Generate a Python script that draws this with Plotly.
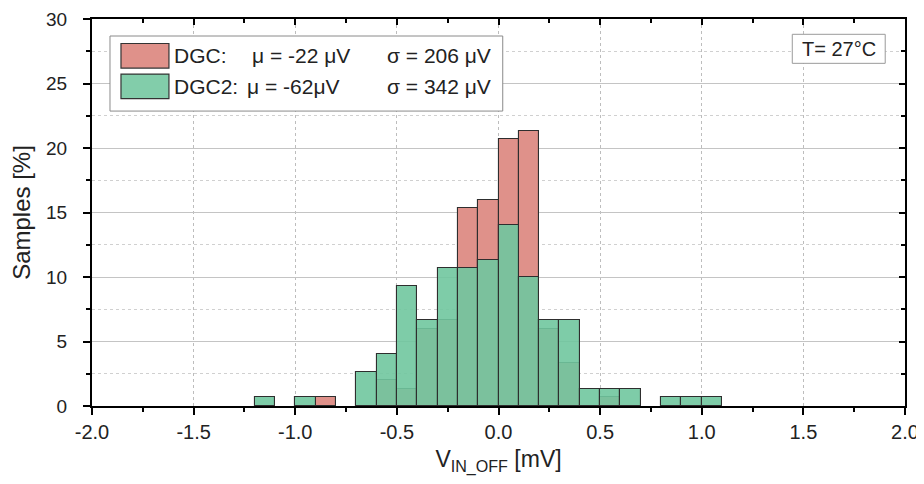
import plotly.graph_objects as go

# ---- data (percent of samples per 0.1 mV bin) ----
bin_centers = [-1.15, -1.05, -0.95, -0.85, -0.75, -0.65, -0.55, -0.45, -0.35, -0.25,
               -0.15, -0.05, 0.05, 0.15, 0.25, 0.35, 0.45, 0.55, 0.65, 0.75,
               0.85, 0.95, 1.05]
dgc_pct = [None, None, None, 0.67, None, None, 2.0, 1.33, 6.0, 6.67,
           15.33, 16.0, 20.67, 21.33, 6.0, 3.33, None, 0.67, None, None,
           None, None, None]
dgc2_pct = [0.67, None, 0.67, None, None, 2.67, 4.0, 9.33, 6.67, 10.67,
            10.67, 11.33, 14.0, 10.0, 6.67, 6.67, 1.33, 1.33, 1.33, None,
            0.67, 0.67, 0.67]
bin_width = 0.1

x_ticks = [-2.0, -1.5, -1.0, -0.5, 0.0, 0.5, 1.0, 1.5, 2.0]
y_ticks = [0, 5, 10, 15, 20, 25, 30]

legend_rows = [
    ("DGC:", "μ = -22 μV", "σ = 206 μV"),
    ("DGC2:", "μ = -62μV", "σ = 342 μV"),
]
temp_label = "T= 27°C"

RED = "#df918a"
GREEN = "rgba(112,198,158,0.9)"
GREEN_SWATCH = "#82cdaa"
FONT = "Liberation Sans, Arial, sans-serif"

# page has an 8px body margin; figure sized so the page does not overflow the window
OFF = 8
W, H = 924 - OFF, 484 - 2 * OFF
L, R, T = 92 - OFF, 18.5, 19 - OFF
B = H - (405.7 - OFF)
PW, PH = W - L - R, H - T - B

fig = go.Figure()
fig.add_trace(go.Bar(x=bin_centers, y=dgc_pct, width=bin_width, name="DGC",
                     marker=dict(color=RED, line=dict(color="#2e2e2e", width=1.1)),
                     showlegend=False))
fig.add_trace(go.Bar(x=bin_centers, y=dgc2_pct, width=bin_width, name="DGC2",
                     marker=dict(color=GREEN, line=dict(color="#2e2e2e", width=1.1)),
                     showlegend=False))
# dummy trace for mirrored (top/right) axes
fig.add_trace(go.Scatter(x=[None], y=[None], xaxis="x2", yaxis="y2",
                         showlegend=False, hoverinfo="skip"))

axis_common = dict(showline=True, linecolor="black", linewidth=2, zeroline=False,
                   automargin=False)

fig.update_layout(
    width=W, height=H,
    margin=dict(l=L, r=R, t=T, b=B),
    paper_bgcolor="white", plot_bgcolor="white",
    barmode="overlay", bargap=0,
    font=dict(family=FONT, size=19, color="#222"),
    xaxis=dict(
        **axis_common, range=[-2, 2], tickvals=x_ticks,
        ticktext=[f"{v:.1f}" for v in x_ticks],
        tickfont=dict(size=20),
        ticks="outside", ticklen=7, tickwidth=1.5, tickcolor="black",
        minor=dict(dtick=0.25, ticks="outside", ticklen=4, tickcolor="black", showgrid=False),
        showgrid=True, gridcolor="#bdbdbd", griddash="dot", gridwidth=1,
        title=dict(text="V<sub>IN_OFF</sub> [mV]", font=dict(size=23), standoff=12),
    ),
    yaxis=dict(
        **axis_common, range=[0, 30], tickvals=y_ticks,
        tickfont=dict(size=19),
        ticks="outside", ticklen=7, tickwidth=1.5, tickcolor="black",
        ticklabelstandoff=12,
        minor=dict(dtick=2.5, ticks="outside", ticklen=4, tickcolor="black",
                   showgrid=True, gridcolor="#d0d0d0", griddash="dot", gridwidth=1),
        showgrid=True, gridcolor="#c4c4c4", gridwidth=1,
        title=dict(text="Samples [%]", font=dict(size=24), standoff=12),
    ),
    xaxis2=dict(overlaying="x", side="top", range=[-2, 2], tickvals=x_ticks,
                showticklabels=False, showgrid=False, zeroline=False, automargin=False,
                showline=True, linecolor="black", linewidth=2,
                ticks="inside", ticklen=6, tickwidth=1.5, tickcolor="black",
                minor=dict(dtick=0.25, ticks="inside", ticklen=4, tickcolor="black")),
    yaxis2=dict(overlaying="y", side="right", range=[0, 30], tickvals=y_ticks,
                showticklabels=False, showgrid=False, zeroline=False, automargin=False,
                showline=True, linecolor="black", linewidth=2,
                ticks="inside", ticklen=6, tickwidth=1.5, tickcolor="black",
                minor=dict(dtick=2.5, ticks="inside", ticklen=4, tickcolor="black")),
)

# ---- helpers: page pixel -> paper fraction ----
def px2x(px):
    return (px - OFF - L) / PW

def px2y(py):
    return (H - B - (py - OFF)) / PH

# custom legend box
fig.add_shape(type="rect", xref="paper", yref="paper",
              x0=px2x(110), x1=px2x(503), y0=px2y(111), y1=px2y(36),
              line=dict(color="#8a8a8a", width=1), fillcolor="white")
row_y = [55.5, 86]
swatch_cols = [RED, GREEN_SWATCH]
for col, cy in zip(swatch_cols, row_y):
    fig.add_shape(type="rect", xref="paper", yref="paper",
                  x0=px2x(121), x1=px2x(169), y0=px2y(cy + 12.5), y1=px2y(cy - 12),
                  line=dict(color="#333", width=1.2), fillcolor=col)

mu_x = [250, 245]
for i, (name, mu, sigma) in enumerate(legend_rows):
    for txt, xp in ((name, 172), (mu, mu_x[i]), (sigma, 385)):
        fig.add_annotation(xref="paper", yref="paper", x=px2x(xp), y=px2y(row_y[i]),
                           text=txt, showarrow=False, xanchor="left", yanchor="middle",
                           font=dict(size=21, family=FONT, color="#222"))

# temperature box
fig.add_shape(type="rect", xref="paper", yref="paper",
              x0=px2x(792.7), x1=px2x(885.7), y0=px2y(63.3), y1=px2y(34.3),
              line=dict(color="#9a9a9a", width=1), fillcolor="white")
fig.add_annotation(xref="paper", yref="paper", x=px2x(839.2), y=px2y(49),
                   text=temp_label, showarrow=False, xanchor="center", yanchor="middle",
                   font=dict(size=20, family=FONT, color="#222"))

fig.write_html("out.html")
